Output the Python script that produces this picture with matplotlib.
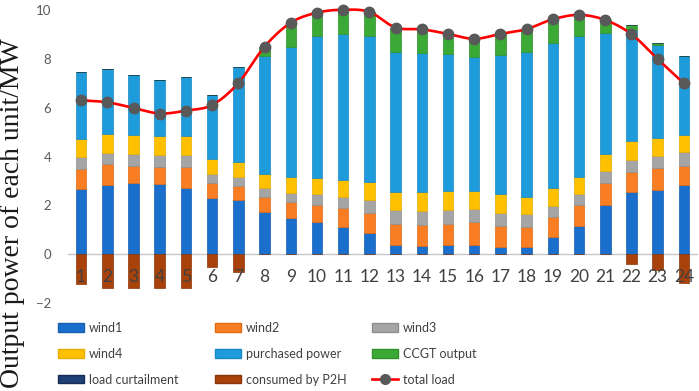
import numpy as np
import matplotlib
matplotlib.use("Agg")
import matplotlib.pyplot as plt
from matplotlib.patches import Patch
from matplotlib.lines import Line2D

hours = list(range(1, 25))
hour_labels = [str(h) for h in hours]

wind1 = [2.65, 2.84, 2.91, 2.88, 2.73, 2.29, 2.20, 1.74, 1.47, 1.33, 1.13, 0.87,
         0.39, 0.34, 0.37, 0.39, 0.30, 0.30, 0.71, 1.16, 2.01, 2.54, 2.64, 2.82]
wind2 = [0.82, 0.86, 0.70, 0.70, 0.85, 0.61, 0.58, 0.59, 0.67, 0.67, 0.76, 0.83,
         0.86, 0.86, 0.88, 0.91, 0.84, 0.82, 0.80, 0.84, 0.89, 0.81, 0.87, 0.79]
wind3 = [0.52, 0.46, 0.50, 0.50, 0.50, 0.38, 0.39, 0.36, 0.38, 0.45, 0.45, 0.50,
         0.56, 0.57, 0.56, 0.55, 0.55, 0.51, 0.46, 0.48, 0.50, 0.51, 0.53, 0.57]
wind4 = [0.74, 0.78, 0.76, 0.75, 0.75, 0.61, 0.59, 0.60, 0.64, 0.65, 0.69, 0.74,
         0.75, 0.76, 0.79, 0.75, 0.77, 0.70, 0.72, 0.70, 0.71, 0.77, 0.72, 0.72]
purchased = [2.73, 2.65, 2.48, 2.30, 2.42, 2.63, 3.89, 4.81, 5.34, 5.83, 5.98, 5.99,
             5.74, 5.70, 5.59, 5.48, 5.68, 5.93, 5.96, 5.75, 4.96, 4.55, 3.81, 3.22]
ccgt = [0, 0, 0, 0, 0, 0, 0.02, 0.40, 0.98, 0.96, 1.00, 0.99,
        0.98, 0.98, 0.83, 0.74, 0.88, 0.96, 0.97, 0.87, 0.52, 0.19, 0.06, 0]
load_curtailment = [0] * 24
p2h = [-1.22, -1.39, -1.39, -1.39, -1.39, -0.52, -0.71, 0, 0, 0, 0, 0,
       0, 0, 0, 0, 0, 0, 0, 0, 0, -0.41, -0.65, -1.20]
total_load = [6.30, 6.22, 5.99, 5.76, 5.88, 6.11, 7.01, 8.50, 9.48, 9.89, 10.01, 9.92,
              9.28, 9.21, 9.02, 8.82, 9.02, 9.22, 9.62, 9.80, 9.59, 9.01, 7.99, 6.99]

series = [
    ("wind1", wind1, "#1B6FCC", "#175FB0"),
    ("wind2", wind2, "#F97D22", "#E06A14"),
    ("wind3", wind3, "#A5A5A5", "#8F8F8F"),
    ("wind4", wind4, "#FFC000", "#E6AD00"),
    ("purchased power", purchased, "#1E9BDB", "#1A88C2"),
    ("CCGT output", ccgt, "#3BA935", "#2F912A"),
    ("load curtailment", load_curtailment, "#1F3F77", "#152C55"),
]
p2h_style = ("consumed by P2H", p2h, "#A8420A", "#8A3508")

fig = plt.figure(figsize=(6.99, 3.91), dpi=100)
ax = fig.add_axes([68 / 699, 88 / 391, 629 / 699, 293 / 391])

x = np.array(hours, dtype=float)
width = 0.40
bottom = np.zeros(24)
handles = {}
for name, vals, fc, ec in series:
    v = np.array(vals, dtype=float)
    ax.bar(x, v, width, bottom=bottom, color=fc, edgecolor=ec, linewidth=0.5, zorder=1)
    bottom = bottom + v
    handles[name] = Patch(facecolor=fc, edgecolor=ec, linewidth=1.0)
name, vals, fc, ec = p2h_style
ax.bar(x, np.array(vals), width, color=fc, edgecolor=ec, linewidth=0.5, zorder=1)
handles[name] = Patch(facecolor=fc, edgecolor=ec, linewidth=1.0)

# smoothed total-load line (Catmull-Rom through the data points)
P = np.column_stack([x, np.array(total_load)])
Pext = np.vstack([2 * P[0] - P[1], P, 2 * P[-1] - P[-2]])
curve = []
for i in range(1, len(Pext) - 2):
    p0, p1, p2, p3 = Pext[i - 1], Pext[i], Pext[i + 1], Pext[i + 2]
    for t in np.linspace(0, 1, 20, endpoint=False):
        t2, t3 = t * t, t * t * t
        pt = 0.5 * ((2 * p1) + (-p0 + p2) * t + (2 * p0 - 5 * p1 + 4 * p2 - p3) * t2
                    + (-p0 + 3 * p1 - 3 * p2 + p3) * t3)
        curve.append(pt)
curve.append(P[-1])
curve = np.array(curve)
ax.plot(curve[:, 0], curve[:, 1], color="#FF0000", lw=1.9, zorder=3, clip_on=False)
ax.plot(x, total_load, ls="none", marker="o", ms=7.5, mfc="#595959", mec="#595959",
        zorder=4, clip_on=False)
handles["total load"] = Line2D([], [], color="#FF0000", lw=1.9, marker="o", ms=7,
                               mfc="#595959", mec="#595959")

ax.set_xlim(0.5, 24.5)
ax.set_ylim(-2, 10)
ax.set_yticks([-2, 0, 2, 4, 6, 8, 10])
ax.set_xticks(x)
ax.set_xticklabels(hour_labels)
for s in ["top", "right", "left"]:
    ax.spines[s].set_visible(False)
ax.spines["bottom"].set_position(("data", 0))
ax.spines["bottom"].set_color("#C8C8C8")
ax.spines["bottom"].set_linewidth(1.0)
ax.spines["bottom"].set_zorder(0.5)
ax.tick_params(axis="y", length=0, pad=12, labelsize=9.5, labelcolor="#595959")
ax.tick_params(axis="x", length=0, pad=11, labelsize=12.5, labelcolor="#404040")
for lab in ax.get_xticklabels() + ax.get_yticklabels():
    lab.set_family("Lato")

fig.text(13 / 699, 1 - 213 / 391, "Output power of each unit/MW", rotation=90,
         ha="center", va="center", fontsize=20, family="Liberation Serif", color="#1a1a1a")

cols = [["wind1", "wind4", "load curtailment"],
        ["wind2", "purchased power", "consumed by P2H"],
        ["wind3", "CCGT output", "total load"]]
col_x = [58, 215, 372]
for cx, names in zip(col_x, cols):
    leg = fig.legend([handles[n] for n in names], names, loc="upper left",
                     bbox_to_anchor=(cx / 699, 1 - 322 / 391), frameon=False,
                     borderpad=0, borderaxespad=0, handlelength=2.1, handleheight=0.65,
                     handletextpad=0.35, labelspacing=1.1,
                     prop={"family": "Lato", "size": 9})
    for t in leg.get_texts():
        t.set_color("#404040")

fig.savefig("out.png", dpi=100)
